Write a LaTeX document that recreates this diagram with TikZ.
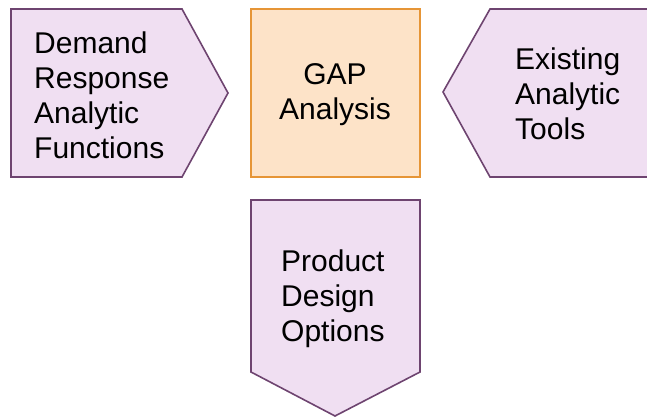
\documentclass[tikz,border=0pt]{standalone}
\usepackage{fontspec}
\setmainfont{Liberation Sans}
\definecolor{lavfill}{HTML}{F0DFF2}
\definecolor{lavline}{HTML}{6E4470}
\definecolor{orfill}{HTML}{FDE3C8}
\definecolor{orline}{HTML}{E69536}
\begin{document}
\begin{tikzpicture}[x=1pt,y=-1pt,
  penta/.style={fill=lavfill,draw=lavline,line width=1.6pt,line join=miter},
  gapbox/.style={fill=orfill,draw=orline,line width=1.6pt},
  lbl/.style={font=\fontsize{30}{35}\selectfont,inner sep=0pt},
]
\useasboundingbox (0,0) rectangle (647,417);
\clip (0,0) rectangle (647,417);
% left pentagon
\draw[penta] (11,9) -- (182,9) -- (228,93) -- (182,177) -- (11,177) -- cycle;
% GAP box
\draw[gapbox] (251,9) rectangle (420,177);
% right pentagon
\draw[penta] (660,9) -- (490,9) -- (443,92) -- (490,177) -- (660,177);
% bottom pentagon
\draw[penta] (251,200) -- (420,200) -- (420,372) -- (335,416) -- (251,372) -- cycle;
\node[lbl,anchor=west,align=left] (dr) at (34,95) {Demand\\Response\\Analytic\\Functions};
\node[lbl,align=center] (gap) at (335,95) {GAP\\Analysis};
\node[lbl,anchor=west,align=left] (ex) at (515,94) {Existing\\Analytic\\Tools};
\node[lbl,anchor=west,align=left] (pd) at (281,299) {Product\\Design\\Options};
\end{tikzpicture}
\end{document}
